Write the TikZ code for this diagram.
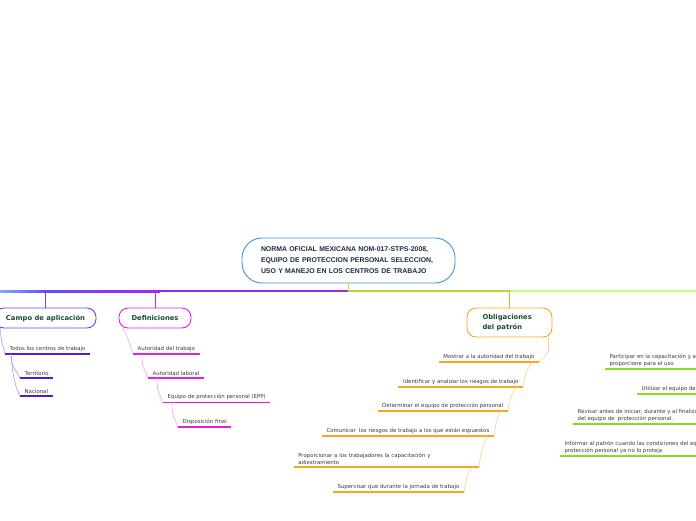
\documentclass[tikz,border=0pt]{standalone}
\usepackage{fontspec}
\setmainfont{DejaVu Sans}
\newfontfamily\rootfont{Liberation Sans}
\definecolor{rootblue}{HTML}{3D93D6}
\definecolor{rootink}{HTML}{1C2B45}
\definecolor{headink}{HTML}{1B4A3A}
\definecolor{leafink}{HTML}{3A3A3A}
\definecolor{campoc}{HTML}{7044F0}
\definecolor{campoul}{HTML}{4A1CE0}
\definecolor{campocon}{HTML}{A898F4}
\definecolor{defc}{HTML}{E020E0}
\definecolor{defcon}{HTML}{F4A0F4}
\definecolor{oblc}{HTML}{F8A522}
\definecolor{oblcon}{HTML}{FFD08A}
\definecolor{greenul}{HTML}{84E024}
\definecolor{lineA}{HTML}{88A8F8}
\definecolor{lineB}{HTML}{6A4CF5}
\definecolor{lineC}{HTML}{A624F0}
\definecolor{lineD}{HTML}{B4D83A}
\definecolor{lineE}{HTML}{C2F87E}
\begin{document}
\begin{tikzpicture}[x=1pt,y=-1pt,
  rootbox/.style={draw=rootblue, line width=0.9pt, rounded corners=20pt, fill=white,
    minimum width=213pt, minimum height=45pt, text width=175pt, align=left,
    font=\rootfont\bfseries\fontsize{6.9}{11}\selectfont, text=rootink},
  headbox/.style={line width=0.9pt, rounded corners=9pt, fill=white,
    font=\bfseries\fontsize{6.8}{10}\selectfont, text=headink, align=left},
  leaf/.style={font=\fontsize{5.4}{7.2}\selectfont, text=leafink, inner xsep=4.5pt,
    inner ysep=2.4pt, align=left},
  leafL/.style={leaf, anchor=south west},
  leafR/.style={leaf, anchor=south east},
  campoul/.style={draw=campoul, line width=1.1pt},
  defulst/.style={draw=defc, line width=1.1pt},
  oblulst/.style={draw=oblc, line width=1.1pt},
  greenulst/.style={draw=greenul, line width=1.1pt},
  campocn/.style={draw=campocon, line width=0.6pt},
  defcn/.style={draw=defcon, line width=0.6pt},
  oblcn/.style={draw=oblcon, line width=0.6pt},
]
\useasboundingbox (0,0) rectangle (696,520);
\clip (0,0) rectangle (696,520);

% main horizontal line
\coordinate (hub) at (348,291);
\shade[left color=lineA, right color=lineB] (0,290) rectangle (44,292);
\shade[left color=lineB, right color=lineC] (44,290) rectangle (160,292);
\fill[lineC] (159.5,290) rectangle (348,292);
\fill[lineD] (348,290) rectangle (510,292);
\fill[lineE] (510,290) rectangle (696,292);

% root
\node[rootbox] (root) at (348.5,260.5) {NORMA OFICIAL MEXICANA NOM-017-STPS-2008,\\EQUIPO DE PROTECCION PERSONAL SELECCION,\\USO Y MANEJO EN LOS CENTROS DE TRABAJO};
\draw[draw=lineD, line width=1pt] (root.south) -- (hub);

% main branches
\node[headbox, draw=campoc, minimum width=101pt, minimum height=20pt] (campo) at (45.5,318) {Campo de aplicación};
\node[headbox, draw=defc, minimum width=72pt, minimum height=20pt] (def) at (155,318) {Definiciones};
\node[headbox, draw=oblc, minimum width=85pt, minimum height=29pt, text width=54pt] (obl) at (509.5,322.5) {Obligaciones\\del patrón};

\draw[campoc, line width=1pt] (campo.north) -- (campo.north |- hub);
\draw[defc, line width=1pt] (def.north) -- (def.north |- hub);
\draw[oblc, line width=1pt] (obl.north) -- (obl.north |- hub);

% Campo de aplicacion
\node[leafL] (c1) at (5,354) {Todos los centros de trabajo};
\node[leafL] (c2) at (20,378) {Territorio};
\node[leafL] (c3) at (20,396) {Nacional};
\foreach \n in {c1,c2,c3} \draw[campoul] (\n.south west) -- (\n.south east);
\draw[campocn] ([xshift=6pt]campo.south west) .. controls +(0,14) and +(-2,-10) .. (c1.south west);
\draw[campocn] ([xshift=6pt]c1.south west) .. controls +(0,12) and +(-4,-8) .. (c2.south west);
\draw[campocn] ([xshift=6pt]c1.south west) .. controls +(2,26) and +(-4,-8) .. (c3.south west);

% Definiciones
\node[leafL] (d1) at (133,354) {Autoridad del trabajo};
\node[leafL] (d2) at (148,378) {Autoridad laboral};
\node[leafL] (d3) at (163,402.7) {Equipo de protección personal (EPP)};
\node[leafL] (d4) at (178,427) {Disposición final};
\foreach \n in {d1,d2,d3,d4} \draw[defulst] (\n.south west) -- (\n.south east);
\draw[defcn] ([xshift=4pt]def.south west) .. controls +(6,10) and +(-4,-12) .. (d1.south west);
\draw[defcn] ([xshift=9pt]d1.south west) .. controls +(0,14) and +(-4,-10) .. (d2.south west);
\draw[defcn] ([xshift=9pt]d2.south west) .. controls +(0,14) and +(-4,-10) .. (d3.south west);
\draw[defcn] ([xshift=9pt]d3.south west) .. controls +(0,14) and +(-4,-10) .. (d4.south west);

% Obligaciones del patron
\node[leafR] (o1) at (539,362) {Mostrar a la autoridad del trabajo};
\node[leafR] (o2) at (523,387) {Identificar y analizar los riesgos de trabajo};
\node[leafR] (o3) at (508,411) {Determinar el equipo de protección personal};
\node[leafR] (o4) at (494,436) {Comunicar~ los riesgos de trabajo a los que están espuestos};
\node[leafR, text width=176pt] (o5) at (479,467) {Proporcionar a los trabajadores la capacitación y\\adiestramiento};
\node[leafR] (o6) at (464,492) {Supervisar que durante la jornada de trabajo};
\foreach \n in {o1,o2,o3,o4,o5,o6} \draw[oblulst] (\n.south west) -- (\n.south east);
\draw[oblcn] ([xshift=-4pt]obl.south east) -- ++(0,14) -- (o1.south east);
\draw[oblcn] ([xshift=-6pt]o1.south east) .. controls +(-6,6) and +(2,-12) .. (o2.south east);
\draw[oblcn] ([xshift=-6pt]o2.south east) .. controls +(-6,6) and +(2,-12) .. (o3.south east);
\draw[oblcn] ([xshift=-6pt]o3.south east) .. controls +(-6,6) and +(2,-12) .. (o4.south east);
\draw[oblcn] ([xshift=-6pt]o4.south east) .. controls +(-6,10) and +(2,-16) .. (o5.south east);
\draw[oblcn] ([xshift=-6pt]o5.south east) .. controls +(-6,6) and +(2,-12) .. (o6.south east);

% right (green) branch, cut by the edge
\node[leafL] (g1) at (605,369) {Participar en la capacitación y adiestramiento que el patrón le\\proporcione para el uso};
\node[leafL] (g2) at (637,394) {Utilizar el equipo de protección personal};
\node[leafL] (g3) at (573,424) {Revisar antes de iniciar, durante y al finalizar su jornada\\del equipo de~ protección personal.};
\node[leafL] (g4) at (560,456) {Informar al patrón cuando las condiciones del equipo de\\protección personal ya no lo proteja};
\foreach \n in {g1,g2,g3,g4} \draw[greenulst] (\n.south west) -- (700,0 |- \n.south west);
\end{tikzpicture}
\end{document}
